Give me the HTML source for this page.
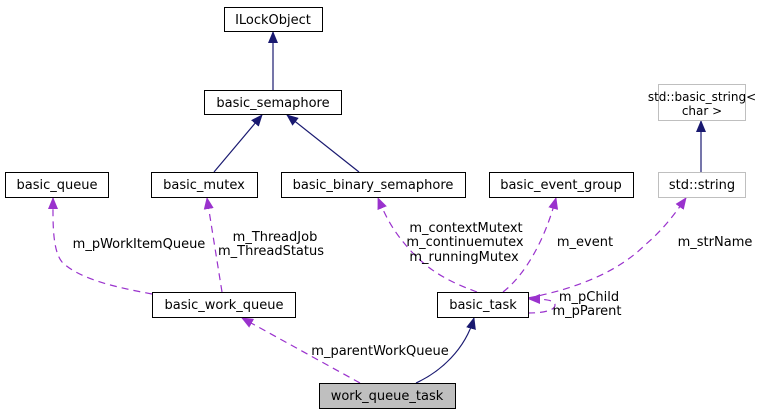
<!DOCTYPE html>
<html><head><style>
body{margin:0;background:#fff}
svg text{font-family:"DejaVu Sans","Liberation Sans",sans-serif;font-size:13px;fill:#000}
</style></head><body>
<svg width="777" height="415" viewBox="0 0 777 415" xmlns="http://www.w3.org/2000/svg">
<defs>
<marker id="n" markerWidth="12" markerHeight="10" refX="11" refY="5" orient="auto" markerUnits="userSpaceOnUse"><path d="M0,0L12,5L0,10z" fill="#191970"/></marker>
<marker id="p" markerWidth="12" markerHeight="10" refX="11" refY="5" orient="auto" markerUnits="userSpaceOnUse"><path d="M0,0L12,5L0,10z" fill="#9a32cd"/></marker>
</defs>
<g fill="none" stroke-width="1.2">
<path d="M273,90L273,32" stroke="#191970" marker-end="url(#n)"/>
<path d="M214,172L262,115" stroke="#191970" marker-end="url(#n)"/>
<path d="M359,172L287,115" stroke="#191970" marker-end="url(#n)"/>
<path d="M701,172L701,121" stroke="#191970" marker-end="url(#n)"/>
<path d="M416,383C440,372 465,350 474,318" stroke="#191970" marker-end="url(#n)"/>
<g stroke="#9a32cd" stroke-dasharray="7,5">
<path d="M152,294C120,288 80,280 62,262C52,250 53,220 53,198" marker-end="url(#p)"/>
<path d="M222,292L207,198" marker-end="url(#p)"/>
<path d="M477,292C450,282 430,272 410,250C392,230 385,215 378,198" marker-end="url(#p)"/>
<path d="M503,292C525,275 545,240 556,198" marker-end="url(#p)"/>
<path d="M528,298C580,288 620,270 645,245C665,228 676,212 686,198" marker-end="url(#p)"/>
<path d="M528,313C545,313 555,310 555,305C555,300 545,299 529,299" marker-end="url(#p)"/>
<path d="M360,383L242,318" marker-end="url(#p)"/>
</g>
</g>
<g stroke="#000" stroke-width="1" fill="#fff">
<rect x="224.5" y="7.5" width="98" height="24"/>
<rect x="204.5" y="90.5" width="137" height="24"/>
<rect x="5.5" y="172.5" width="103" height="25"/>
<rect x="151.5" y="172.5" width="106" height="25"/>
<rect x="281.5" y="172.5" width="184" height="25"/>
<rect x="489.5" y="172.5" width="144" height="25"/>
<rect x="152.5" y="292.5" width="143" height="25"/>
<rect x="437.5" y="292.5" width="91" height="25"/>
<rect x="319.5" y="383.5" width="136" height="25" fill="#bfbfbf"/>
<rect x="658.5" y="172.5" width="87" height="25" stroke="#bfbfbf"/>
<rect x="658.5" y="84.5" width="87" height="36" stroke="#bfbfbf"/>
</g>
<g text-anchor="middle">
<text x="273" y="24">ILockObject</text>
<text x="273" y="107">basic_semaphore</text>
<text x="57" y="189">basic_queue</text>
<text x="204" y="189">basic_mutex</text>
<text x="373" y="189">basic_binary_semaphore</text>
<text x="561" y="189">basic_event_group</text>
<text x="702" y="189" fill="#404040">std::string</text>
<text x="702" y="101" fill="#404040" style="font-size:12px">std::basic_string&lt;</text>
<text x="702" y="115" fill="#404040" style="font-size:12px">char &gt;</text>
<text x="224" y="309">basic_work_queue</text>
<text x="483" y="309">basic_task</text>
<text x="387" y="400">work_queue_task</text>
<text x="139" y="248">m_pWorkItemQueue</text>
<text x="275" y="241">m_ThreadJob</text>
<text x="271" y="255">m_ThreadStatus</text>
<text x="466" y="232">m_contextMutext</text>
<text x="465" y="246">m_continuemutex</text>
<text x="464" y="261">m_runningMutex</text>
<text x="585" y="246">m_event</text>
<text x="715" y="246">m_strName</text>
<text x="589" y="301">m_pChild</text>
<text x="587" y="315">m_pParent</text>
<text x="380" y="355">m_parentWorkQueue</text>
</g>
</svg>
</body></html>
